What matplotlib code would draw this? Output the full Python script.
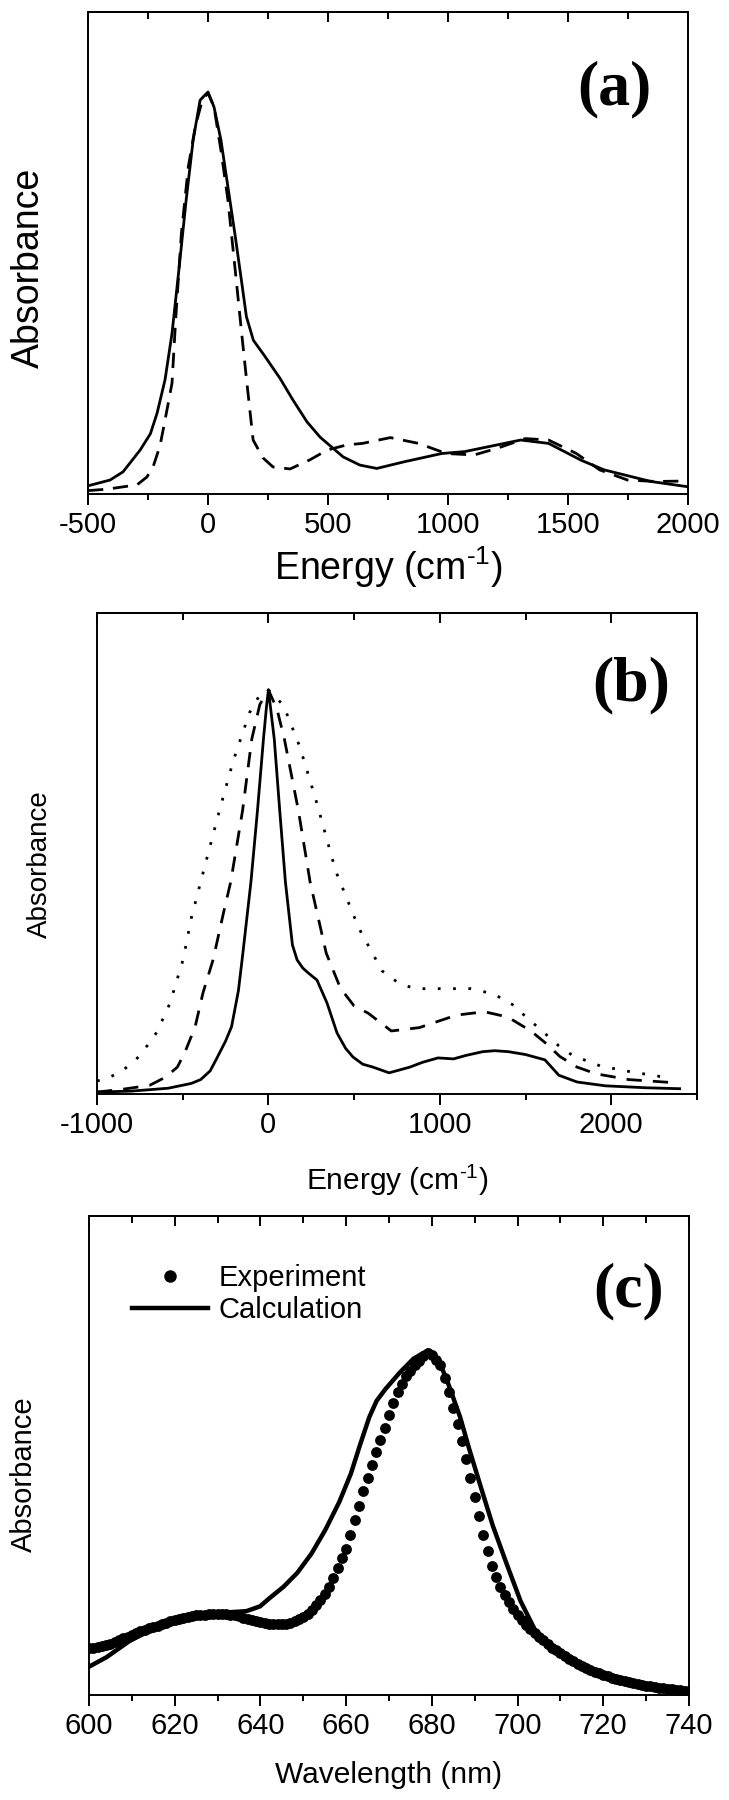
import numpy as np
import matplotlib
matplotlib.use('Agg')
import matplotlib.pyplot as plt
from matplotlib.ticker import MultipleLocator
from matplotlib.lines import Line2D

plt.rcParams['font.family'] = ['Liberation Sans', 'DejaVu Sans']
plt.rcParams['axes.unicode_minus'] = False
plt.rcParams['mathtext.fontset'] = 'custom'
plt.rcParams['mathtext.rm'] = 'Liberation Sans'
plt.rcParams['mathtext.default'] = 'regular'

# ---- panel (a): energy (cm-1), normalised absorbance ----
a_solid_E = [-500, -408, -354, -283, -240, -212, -179, -150, -120, -91, -62, -33, -14, 0, 25, 54,
             83, 112, 141, 160, 189, 238, 300, 354, 412, 467, 563, 633, 703, 819, 974, 1070,
             1167, 1303, 1419, 1555, 1651, 1845, 2000]
a_solid_A = [0.017, 0.029, 0.046, 0.091, 0.125, 0.168, 0.237, 0.333, 0.471, 0.610, 0.734, 0.817,
             0.827, 0.834, 0.803, 0.734, 0.637, 0.540, 0.437, 0.368, 0.319, 0.285, 0.240, 0.195,
             0.150, 0.118, 0.077, 0.060, 0.053, 0.067, 0.084, 0.088, 0.098, 0.112, 0.105, 0.070,
             0.050, 0.026, 0.015]
a_dash_E = [-500, -421, -296, -255, -229, -200, -187, -165, -150, -135, -111, -82, -53, -24, 0,
            25, 54, 83, 112, 141, 160, 188, 229, 271, 342, 425, 496, 579, 644, 760, 877, 993,
            1109, 1206, 1322, 1419, 1535, 1632, 1748, 1864, 2000]
a_dash_A = [0.007, 0.010, 0.019, 0.035, 0.056, 0.100, 0.133, 0.190, 0.230, 0.360, 0.540, 0.679,
            0.762, 0.817, 0.832, 0.803, 0.713, 0.610, 0.471, 0.330, 0.240, 0.112, 0.075, 0.056,
            0.052, 0.071, 0.091, 0.102, 0.105, 0.117, 0.105, 0.084, 0.081, 0.095, 0.115, 0.112,
            0.084, 0.050, 0.029, 0.026, 0.027]

# ---- panel (b): three broadenings ----
b_solid_E = [-1000, -800, -585, -450, -395, -340, -300, -250, -215, -175, -150, -102, -64, -29,
             -10, 0, 10, 34, 66, 99, 140, 167, 200, 225, 255, 283, 342, 400, 450, 493, 550, 609,
             704, 826, 900, 989, 1080, 1150, 1250, 1320, 1400, 1500, 1613, 1694, 1800, 1965,
             2200, 2399]
b_solid_A = [0.004, 0.006, 0.012, 0.022, 0.030, 0.048, 0.075, 0.110, 0.140, 0.215, 0.290, 0.441,
             0.589, 0.738, 0.810, 0.840, 0.810, 0.738, 0.589, 0.441, 0.310, 0.279, 0.262, 0.254,
             0.245, 0.237, 0.189, 0.127, 0.095, 0.077, 0.062, 0.056, 0.044, 0.056, 0.066, 0.075,
             0.073, 0.080, 0.088, 0.090, 0.088, 0.082, 0.071, 0.039, 0.025, 0.017, 0.013, 0.011]
b_dash_E = [-1000, -848, -693, -600, -531, -487, -428, -382, -323, -260, -220, -151, -97, -50,
            0, 50, 93, 175, 243, 337, 420, 500, 582, 717, 880, 1097, 1260, 1396, 1531, 1620,
            1700, 1800, 1911, 2101, 2345]
b_dash_A = [0.004, 0.010, 0.018, 0.035, 0.056, 0.087, 0.139, 0.210, 0.279, 0.380, 0.441, 0.589,
            0.738, 0.810, 0.840, 0.800, 0.738, 0.589, 0.441, 0.293, 0.220, 0.183, 0.168, 0.131,
            0.138, 0.164, 0.171, 0.160, 0.131, 0.105, 0.078, 0.056, 0.042, 0.030, 0.024]
b_dot_E = [-1000, -936, -854, -773, -708, -650, -574, -498, -449, -368, -286, -205, -110, -50,
           0, 88, 183, 283, 392, 527, 663, 758, 853, 1016, 1178, 1314, 1423, 1504, 1600, 1694,
           1775, 1938, 2101, 2291]
b_dot_A = [0.027, 0.033, 0.048, 0.071, 0.100, 0.129, 0.189, 0.279, 0.367, 0.478, 0.589, 0.693,
           0.793, 0.830, 0.840, 0.808, 0.722, 0.604, 0.464, 0.345, 0.256, 0.231, 0.219, 0.219,
           0.219, 0.208, 0.186, 0.160, 0.130, 0.100, 0.080, 0.058, 0.047, 0.036]

# ---- panel (c): experiment (1 nm steps) and calculation ----
exp_wl = np.arange(600, 741)
exp_A = [0.098, 0.099, 0.100, 0.102, 0.104, 0.107, 0.110, 0.114, 0.118, 0.122,
         0.125, 0.129, 0.133, 0.136, 0.139, 0.142, 0.145, 0.148, 0.151, 0.154,
         0.156, 0.158, 0.160, 0.162, 0.164, 0.166, 0.167, 0.168, 0.169, 0.170,
         0.170, 0.170, 0.169, 0.168, 0.166, 0.164, 0.161, 0.158, 0.156, 0.154,
         0.152, 0.150, 0.149, 0.148, 0.148, 0.148, 0.149, 0.151, 0.154, 0.158,
         0.163, 0.170, 0.178, 0.188, 0.199, 0.210, 0.225, 0.244, 0.265, 0.285,
         0.305, 0.335, 0.365, 0.395, 0.425, 0.453, 0.481, 0.508, 0.533, 0.558,
         0.585, 0.610, 0.633, 0.650, 0.665, 0.677, 0.688, 0.698, 0.707, 0.714,
         0.710, 0.700, 0.688, 0.662, 0.632, 0.600, 0.566, 0.530, 0.492, 0.453,
         0.413, 0.373, 0.335, 0.300, 0.270, 0.246, 0.226, 0.209, 0.194, 0.180,
         0.168, 0.157, 0.147, 0.138, 0.130, 0.122, 0.114, 0.106, 0.099, 0.093,
         0.087, 0.081, 0.075, 0.070, 0.065, 0.061, 0.057, 0.053, 0.049, 0.045,
         0.042, 0.039, 0.036, 0.034, 0.031, 0.029, 0.027, 0.025, 0.023, 0.021,
         0.019, 0.018, 0.016, 0.015, 0.014, 0.013, 0.012, 0.011, 0.010, 0.009,
         0.008]
calc_wl = [600, 604.1, 609.5, 615.0, 620.4, 625.8, 631.3, 636.7, 639.9, 642.1, 645.4, 648.6,
           651.9, 655.1, 658.4, 661.1, 663.2, 665.4, 667.1, 669.2, 672.5, 675.7, 679.0, 681.7,
           683.9, 686.6, 688.8, 691.5, 694.2, 697.4, 700.7, 704.5, 707.2, 712.6, 720.2, 728.9,
           740]
calc_A = [0.059, 0.079, 0.113, 0.138, 0.157, 0.167, 0.172, 0.175, 0.185, 0.202, 0.226, 0.255,
          0.295, 0.344, 0.403, 0.462, 0.521, 0.580, 0.614, 0.639, 0.673, 0.702, 0.719, 0.697,
          0.648, 0.580, 0.511, 0.432, 0.354, 0.275, 0.196, 0.128, 0.103, 0.074, 0.039, 0.017,
          0.007]

LW_AX = 1.4
TICK_FS = 21
ENERGY = r'Energy (cm$^{\text{-}1}$)'


def style(ax, xmin, xmax, major, minor):
    ax.set_xlim(xmin, xmax)
    ax.set_ylim(0, 1)
    ax.set_yticks([])
    ax.xaxis.set_major_locator(MultipleLocator(major))
    ax.xaxis.set_minor_locator(MultipleLocator(minor))
    ax.tick_params(axis='x', which='major', direction='out', length=8, width=LW_AX,
                   labelsize=TICK_FS, pad=4)
    ax.tick_params(axis='x', which='minor', direction='out', length=4.5, width=LW_AX)
    for s in ax.spines.values():
        s.set_linewidth(LW_AX)
    top = ax.secondary_xaxis('top')
    top.xaxis.set_major_locator(MultipleLocator(major))
    top.xaxis.set_minor_locator(MultipleLocator(minor))
    top.tick_params(axis='x', which='both', direction='in', labeltop=False, width=LW_AX)
    top.tick_params(axis='x', which='major', length=7)
    top.tick_params(axis='x', which='minor', length=5)
    top.spines['top'].set_linewidth(LW_AX)


def panel_letter(ax, x, y, s):
    ax.text(x, y, s, transform=ax.transAxes, ha='center', va='center', fontsize=46,
            fontweight='bold', family=['Liberation Serif', 'DejaVu Serif'])


fig = plt.figure(figsize=(7.29, 18.0), dpi=100)
W = 600 / 729
ax1 = fig.add_axes([88 / 729, 1 - 494 / 1800, W, 482 / 1800])
ax2 = fig.add_axes([97 / 729, 1 - 1094 / 1800, W, 481 / 1800])
ax3 = fig.add_axes([89 / 729, 1 - 1695 / 1800, W, 479 / 1800])

# (a)
ax1.plot(a_solid_E, a_solid_A, color='k', lw=2)
ax1.plot(a_dash_E, a_dash_A, color='k', lw=2, ls=(0, (5.5, 3.5)))
style(ax1, -500, 2000, 500, 250)
ax1.set_xlabel(ENERGY, fontsize=27, va='center')
ax1.xaxis.set_label_coords(0.5, (494 - 567) / 482)
ax1.set_ylabel('Absorbance', fontsize=27, va='center')
ax1.yaxis.set_label_coords(-0.098, 0.47)
panel_letter(ax1, 0.877, 0.84, '(a)')

# (b)
ax2.plot(b_solid_E, b_solid_A, color='k', lw=2)
ax2.plot(b_dash_E, b_dash_A, color='k', lw=2, ls=(0, (5.5, 4)))
ax2.plot(b_dot_E, b_dot_A, color='k', lw=2, ls=(0, (1, 4.5)))
style(ax2, -1000, 2500, 1000, 500)
ax2.set_xlabel(ENERGY, fontsize=21.5, va='center')
ax2.xaxis.set_label_coords(0.5, -0.179)
ax2.set_ylabel('Absorbance', fontsize=20, va='center')
ax2.yaxis.set_label_coords(-0.095, 0.477)
panel_letter(ax2, 0.89, 0.85, '(b)')

# (c)
ax3.plot(calc_wl, calc_A, color='k', lw=3.2)
ax3.plot(exp_wl, exp_A, ls='none', marker='o', markersize=7.8, color='k', markeredgewidth=0)
style(ax3, 600, 740, 20, 10)
ax3.set_xlabel('Wavelength (nm)', fontsize=21.5, va='center')
ax3.xaxis.set_label_coords(0.5, -0.167)
ax3.set_ylabel('Absorbance', fontsize=21, va='center')
ax3.yaxis.set_label_coords(-0.109, 0.46)
panel_letter(ax3, 0.90, 0.843, '(c)')
handles = [Line2D([], [], ls='none', marker='o', markersize=9, color='k', markeredgewidth=0),
           Line2D([], [], color='k', lw=3.2)]
ax3.legend(handles, ['Experiment', 'Calculation'], loc='upper left',
           bbox_to_anchor=(0.072, 0.90), frameon=False, fontsize=21, handlelength=2.6,
           handletextpad=0.35, labelspacing=0.15, borderpad=0, borderaxespad=0, numpoints=1)

fig.savefig('out.png', dpi=100)
